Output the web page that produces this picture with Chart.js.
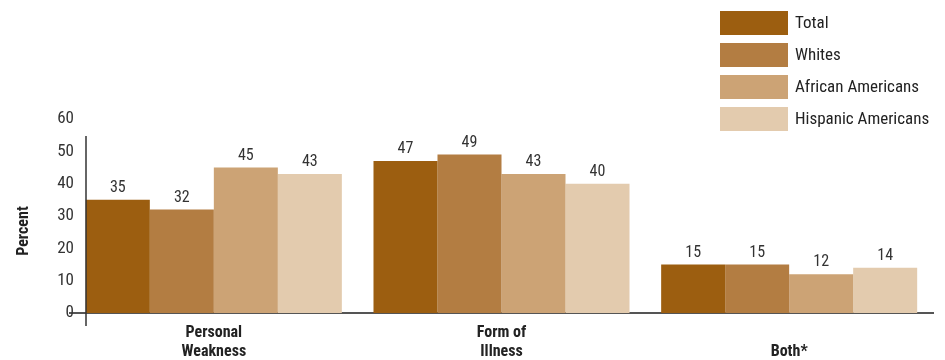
<!DOCTYPE html>
<html>
<head>
<meta charset="utf-8">
<script src="https://cdn.jsdelivr.net/npm/chart.js@4.4.1/dist/chart.umd.min.js"></script>
<style>
  html, body { margin: 0; padding: 0; background: #fff; }
  #wrap { width: 945px; height: 360px; position: relative; }
</style>
</head>
<body>
<div id="wrap"><canvas id="bar-chart"></canvas></div>
<script>
const FONT = "'Liberation Sans Narrow', 'Roboto Condensed', Roboto, sans-serif";

const categories = [['Personal', 'Weakness'], ['Form of', 'Illness'], ['', 'Both*']];
const seriesNames = ['Total', 'Whites', 'African Americans', 'Hispanic Americans'];
const total = [35, 47, 15];
const whites = [32, 49, 15];
const africanAmericans = [45, 43, 12];
const hispanicAmericans = [43, 40, 14];
const yTicks = [0, 10, 20, 30, 40, 50, 60];

const colors = ['rgb(156, 94, 16)', 'rgb(179, 125, 66)', 'rgb(204, 163, 117)', 'rgb(227, 203, 174)'];

// value labels above bars
const valueLabels = {
  id: 'valueLabels',
  afterDatasetsDraw(chart) {
    const ctx = chart.ctx;
    ctx.save();
    ctx.font = '16px ' + FONT;
    ctx.fillStyle = '#333';
    ctx.textAlign = 'center';
    ctx.textBaseline = 'bottom';
    chart.data.datasets.forEach((ds, i) => {
      chart.getDatasetMeta(i).data.forEach((bar, j) => {
        ctx.fillText(ds.data[j], bar.x, bar.y - 4);
      });
    });
    ctx.restore();
  }
};

// y axis line + tick labels, axis title and the legend
const extras = {
  id: 'extras',
  afterDraw(chart) {
    const ctx = chart.ctx;
    const area = chart.chartArea;
    const yScale = chart.scales.y;
    ctx.save();
    ctx.strokeStyle = '#333';
    ctx.lineWidth = 1.5;
    ctx.beginPath();
    ctx.moveTo(86, area.top + 17);
    ctx.lineTo(86, area.bottom + 13);
    ctx.stroke();
    ctx.strokeStyle = '#555';
    ctx.lineWidth = 2;
    ctx.beginPath();
    ctx.moveTo(80, area.bottom);
    ctx.lineTo(area.left, area.bottom);
    ctx.stroke();

    ctx.font = '17px ' + FONT;
    ctx.fillStyle = '#333';
    ctx.textAlign = 'right';
    ctx.textBaseline = 'middle';
    yTicks.forEach(v => ctx.fillText(v, 74, yScale.getPixelForValue(v)));

    ctx.translate(24, 231);
    ctx.rotate(-Math.PI / 2);
    ctx.font = 'bold 16px ' + FONT;
    ctx.fillStyle = '#222';
    ctx.textAlign = 'center';
    ctx.fillText('Percent', 0, 0);
    ctx.restore();

    ctx.save();
    ctx.font = '17px ' + FONT;
    ctx.textBaseline = 'middle';
    seriesNames.forEach((name, i) => {
      const y = 11 + i * 32;
      ctx.fillStyle = colors[i];
      ctx.fillRect(720, y, 68, 24);
      ctx.fillStyle = '#222';
      ctx.fillText(name, 795, y + 13);
    });
    ctx.restore();
  }
};

const barChart = new Chart(document.getElementById('bar-chart'), {
  type: 'bar',
  data: {
    labels: categories,
    datasets: [total, whites, africanAmericans, hispanicAmericans].map((d, i) => ({
      label: seriesNames[i],
      data: d,
      backgroundColor: colors[i],
      borderWidth: 0,
      barPercentage: 1,
      categoryPercentage: 0.89
    }))
  },
  options: {
    responsive: true,
    maintainAspectRatio: false,
    animation: false,
    layout: { padding: { top: 119, right: 12, left: 0, bottom: 0 } },
    plugins: {
      legend: { display: false },
      tooltip: { enabled: false }
    },
    scales: {
      x: {
        grid: { display: false },
        border: { display: true, color: '#555', width: 2 },
        ticks: {
          color: '#222',
          font: { family: FONT, size: 16, weight: 'bold' },
          padding: 2
        },
        afterFit(scale) { scale.height = 47; }
      },
      y: {
        min: 0,
        max: 60,
        afterBuildTicks(scale) { scale.ticks = yTicks.map(v => ({ value: v })); },
        grid: { display: false, drawTicks: false },
        border: { display: false },
        ticks: { display: false },
        afterFit(scale) { scale.width = 70; }
      }
    }
  },
  plugins: [valueLabels, extras]
});
</script>
</body>
</html>
